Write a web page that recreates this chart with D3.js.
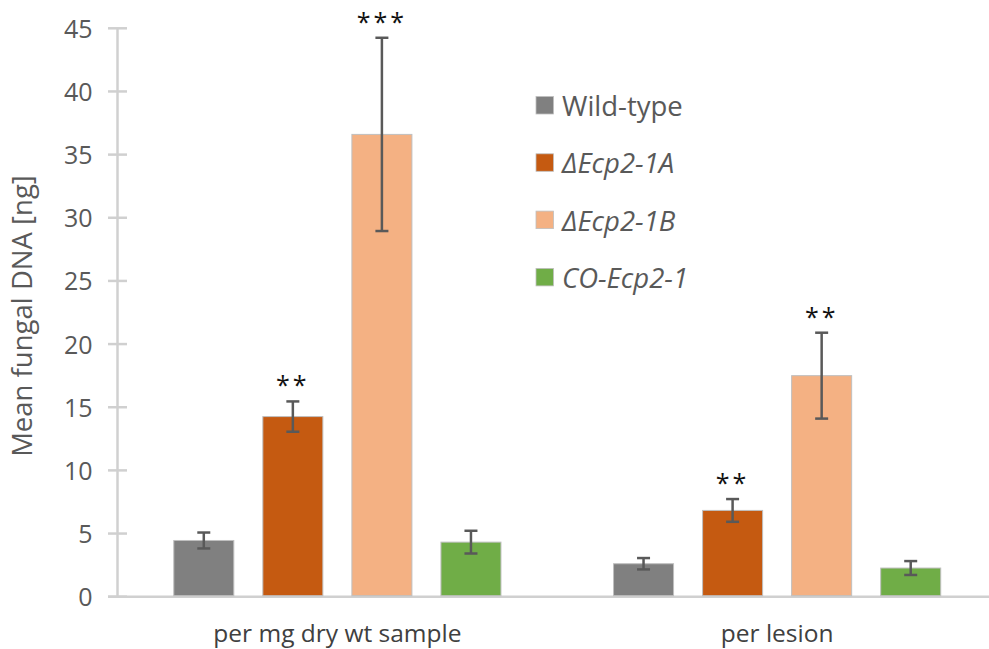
<!DOCTYPE html>
<html><head><meta charset="utf-8">
<script src="https://cdn.jsdelivr.net/npm/d3@7/dist/d3.min.js"></script>
<style>body{margin:0;background:#fff}svg{display:block}text{font-family:"Open Sans",sans-serif}</style>
</head><body><svg id="c" width="989" height="649"></svg>
<script>
const groups = ["per mg dry wt sample", "per lesion"];
const series = ["Wild-type", "ΔEcp2-1A", "ΔEcp2-1B", "CO-Ecp2-1"];
const colors = ["#808080", "#c55a11", "#f4b183", "#70ad47"];
const italic = [false, true, true, true];
const values = [[4.45, 14.26, 36.6, 4.32], [2.61, 6.83, 17.5, 2.27]];
const errors = [[0.63, 1.2, 7.65, 0.9], [0.45, 0.9, 3.4, 0.55]];
const signif = [["", "**", "***", ""], ["", "**", "**", ""]];
const yTicks = [0, 5, 10, 15, 20, 25, 30, 35, 40, 45];

const svg = d3.select("#c");
const L = 117.5, R = 997, T = 28.3, B = 596.7;
const y = d3.scaleLinear().domain([0, 45]).range([B, T]);
const x0 = d3.scaleBand().domain(groups).range([L, R]).padding(0);
const x1 = d3.scaleBand().domain(series).range([0, x0.bandwidth()]).paddingInner(0.326).paddingOuter(0.632);

// axes
const yAxis = d3.axisLeft(y).tickValues(yTicks).tickSize(0).tickPadding(25);
const gy = svg.append("g").attr("transform", `translate(${L},0)`).call(yAxis);
gy.select(".domain").remove();
gy.selectAll("text").attr("fill", "#595959").style("font-size", "25px").attr("dy", "0.36em");
svg.append("g").selectAll("line").data(yTicks).join("line")
  .attr("x1", L - 9.5).attr("x2", L + 9.5).attr("y1", d => y(d)).attr("y2", d => y(d))
  .attr("stroke", "#d0d0d0").attr("stroke-width", 2.5);
svg.append("line").attr("x1", L).attr("x2", L).attr("y1", T).attr("y2", B)
  .attr("stroke", "#d0d0d0").attr("stroke-width", 2.5);
svg.append("line").attr("x1", L - 9.5).attr("x2", R).attr("y1", B).attr("y2", B)
  .attr("stroke", "#d0d0d0").attr("stroke-width", 2.5);

const xAxis = d3.axisBottom(x0).tickSize(0).tickPadding(0);
const gx = svg.append("g").attr("transform", `translate(0,${B})`).call(xAxis);
gx.select(".domain").remove();
gx.selectAll("text").attr("fill", "#404040").style("font-size", "24.5px")
  .attr("y", 642 - B).attr("dy", 0);

// bars
const data = [];
groups.forEach((g, gi) => series.forEach((s, si) => data.push({g, s, si, v: values[gi][si], e: errors[gi][si], sig: signif[gi][si]})));
const bars = svg.append("g");
bars.selectAll("rect").data(data).join("rect")
  .attr("x", d => x0(d.g) + x1(d.s)).attr("width", x1.bandwidth())
  .attr("y", d => y(d.v)).attr("height", d => B - 1 - y(d.v))
  .attr("fill", d => colors[d.si]).attr("stroke", "#bfbfbf").attr("stroke-width", 1);

// error bars
const eb = svg.append("g").attr("stroke", "#595959").attr("stroke-width", 2.5);
data.forEach(d => {
  const cx = x0(d.g) + x1(d.s) + x1.bandwidth() / 2;
  eb.append("line").attr("x1", cx).attr("x2", cx).attr("y1", y(d.v + d.e)).attr("y2", y(d.v - d.e));
  [d.v + d.e, d.v - d.e].forEach(v => eb.append("line").attr("x1", cx - 6.5).attr("x2", cx + 6.5).attr("y1", y(v)).attr("y2", y(v)));
});

// significance
svg.append("g").selectAll("text").data(data.filter(d => d.sig)).join("text")
  .attr("x", d => x0(d.g) + x1(d.s) + x1.bandwidth() / 2)
  .attr("y", d => y(d.v + d.e) - 7)
  .attr("text-anchor", "middle").attr("fill", "#111").style("font-size", "25px")
  .style("letter-spacing", "3px")
  .text(d => d.sig);

// y title
svg.append("text").attr("transform", "translate(32,316) rotate(-90)").attr("text-anchor", "middle")
  .attr("fill", "#595959").style("font-size", "27.5px").text("Mean fungal DNA [ng]");

// legend
const lg = svg.append("g");
series.forEach((s, i) => {
  const yy = 105 + i * 57.3;
  lg.append("rect").attr("x", 536).attr("y", yy - 8.5).attr("width", 17.5).attr("height", 17.5)
    .attr("fill", colors[i]).attr("stroke", "#bfbfbf").attr("stroke-width", 0.8);
  lg.append("text").attr("x", 562).attr("y", yy + 11).attr("fill", "#595959")
    .style("font-size", "27.5px").style("font-style", italic[i] ? "italic" : "normal").text(s);
});
</script></body></html>
